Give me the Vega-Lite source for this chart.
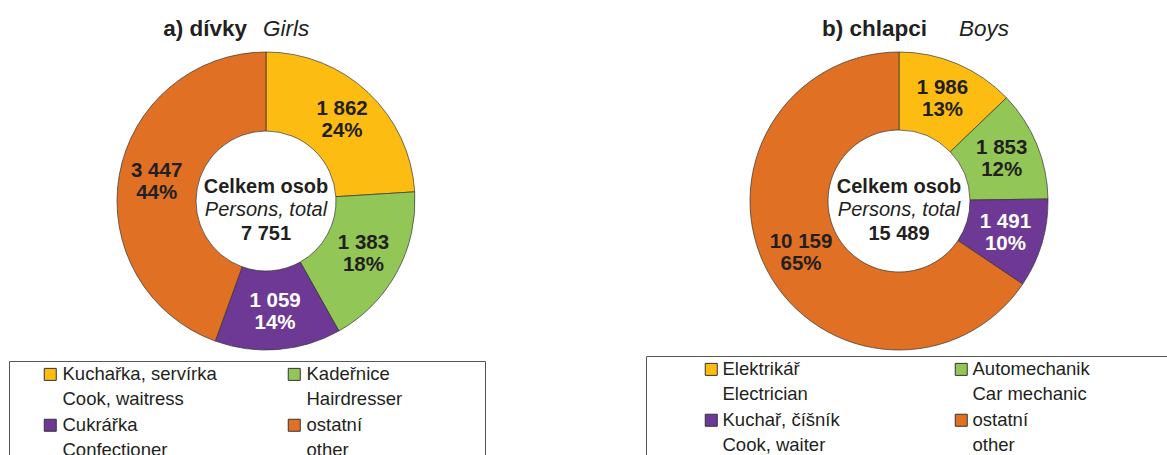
{
  "$schema": "https://vega.github.io/schema/vega-lite/v6.json",
  "padding": 0,
  "background": "white",
  "datasets": {
    "girls": [
      {"cat": "Kuchařka, servírka|Cook, waitress", "n": 1862, "pct": 0.24, "k": 1},
      {"cat": "Kadeřnice|Hairdresser", "n": 1383, "pct": 0.18, "k": 2},
      {"cat": "Cukrářka|Confectioner", "n": 1059, "pct": 0.14, "k": 3},
      {"cat": "ostatní|other", "n": 3447, "pct": 0.44, "k": 4}
    ],
    "boys": [
      {"cat": "Elektrikář|Electrician", "n": 1986, "pct": 0.13, "k": 1},
      {"cat": "Automechanik|Car mechanic", "n": 1853, "pct": 0.12, "k": 2},
      {"cat": "Kuchař, číšník|Cook, waiter", "n": 1491, "pct": 0.10, "k": 3},
      {"cat": "ostatní|other", "n": 10159, "pct": 0.65, "k": 4}
    ]
  },
  "spacing": 100,
  "bounds": "flush",
  "resolve": {"scale": {"color": "independent", "theta": "independent"}, "legend": {"color": "independent"}},
  "hconcat": [
    {
      "width": 532,
      "height": 402,
      "data": {"name": "girls"},
      "layer": [
        {
          "mark": {"type": "arc", "outerRadius": 149, "innerRadius": 70, "stroke": "#333333", "strokeWidth": 0.7},
          "encoding": {
            "theta": {"field": "n", "type": "quantitative", "stack": true},
            "order": {"field": "k", "type": "quantitative"},
            "color": {
              "field": "cat", "type": "nominal",
              "scale": {"domain": ["Kuchařka, servírka|Cook, waitress", "Kadeřnice|Hairdresser", "Cukrářka|Confectioner", "ostatní|other"],
                        "range": ["#FCBC12", "#92C656", "#6E3995", "#E07024"]},
              "legend": {"title": " ", "titleOrient": "right", "titlePadding": 79, "orient": "none", "legendX": 9, "legendY": 361,
                         "direction": "horizontal", "columns": 2, "gridAlign": "all",
                         "labelExpr": "split(datum.label, '|')",
                         "symbolOffset": 28, "labelOffset": 3, "columnPadding": 40}
            }
          }
        },
        {
          "mark": {"type": "text", "radius": 111, "dy": -11, "fontWeight": "bold", "fontSize": 20.5},
          "encoding": {
            "theta": {"field": "n", "type": "quantitative", "stack": true},
            "order": {"field": "k", "type": "quantitative"},
            "detail": {"field": "cat", "type": "nominal"},
            "text": {"field": "n", "type": "quantitative", "format": ",d"},
            "color": {"condition": {"test": "datum.k == 3", "value": "#FFFFFF"}, "value": "#231F20"}
          }
        },
        {
          "mark": {"type": "text", "radius": 111, "dy": 11, "fontWeight": "bold", "fontSize": 20.5},
          "encoding": {
            "theta": {"field": "n", "type": "quantitative", "stack": true},
            "order": {"field": "k", "type": "quantitative"},
            "detail": {"field": "cat", "type": "nominal"},
            "text": {"field": "pct", "type": "quantitative", "format": ".0%"},
            "color": {"condition": {"test": "datum.k == 3", "value": "#FFFFFF"}, "value": "#231F20"}
          }
        },
        {
          "transform": [{"aggregate": [{"op": "sum", "field": "n", "as": "total"}]}],
          "layer": [
            {"mark": {"type": "text", "text": "Celkem osob", "fontWeight": "bold", "fontSize": 20, "dy": -14.5, "color": "#231F20"}, "encoding": {}},
            {"mark": {"type": "text", "text": "Persons, total", "fontStyle": "italic", "fontSize": 20, "dy": 9, "color": "#231F20"}, "encoding": {}},
            {"mark": {"type": "text", "fontWeight": "bold", "fontSize": 20, "dy": 32.5, "color": "#231F20"},
             "encoding": {"text": {"field": "total", "type": "quantitative", "format": ",d"}}},
            {"mark": {"type": "text", "text": "a) dívky", "fontWeight": "bold", "fontSize": 22.5, "align": "right", "baseline": "alphabetic", "dx": -19, "dy": -165, "color": "#231F20"}, "encoding": {}},
            {"mark": {"type": "text", "text": "Girls", "fontStyle": "italic", "fontSize": 22.5, "align": "left", "baseline": "alphabetic", "dx": -3, "dy": -165, "color": "#231F20"}, "encoding": {}}
          ]
        }
      ]
    },
    {
      "width": 534,
      "height": 402,
      "data": {"name": "boys"},
      "layer": [
        {
          "mark": {"type": "arc", "outerRadius": 149, "innerRadius": 71, "stroke": "#333333", "strokeWidth": 0.7},
          "encoding": {
            "theta": {"field": "n", "type": "quantitative", "stack": true},
            "order": {"field": "k", "type": "quantitative"},
            "color": {
              "field": "cat", "type": "nominal",
              "scale": {"domain": ["Elektrikář|Electrician", "Automechanik|Car mechanic", "Kuchař, číšník|Cook, waiter", "ostatní|other"],
                        "range": ["#FCBC12", "#92C656", "#6E3995", "#E07024"]},
              "legend": {"title": " ", "titleOrient": "right", "titlePadding": 90, "orient": "none", "legendX": 14, "legendY": 356,
                         "direction": "horizontal", "columns": 2,
                         "labelExpr": "split(datum.label, '|')",
                         "symbolOffset": 52, "labelOffset": 2, "columnPadding": 60}
            }
          }
        },
        {
          "mark": {"type": "text", "radius": 111, "dy": -11, "fontWeight": "bold", "fontSize": 20.5},
          "encoding": {
            "theta": {"field": "n", "type": "quantitative", "stack": true},
            "order": {"field": "k", "type": "quantitative"},
            "detail": {"field": "cat", "type": "nominal"},
            "text": {"field": "n", "type": "quantitative", "format": ",d"},
            "color": {"condition": {"test": "datum.k == 3", "value": "#FFFFFF"}, "value": "#231F20"}
          }
        },
        {
          "mark": {"type": "text", "radius": 111, "dy": 11, "fontWeight": "bold", "fontSize": 20.5},
          "encoding": {
            "theta": {"field": "n", "type": "quantitative", "stack": true},
            "order": {"field": "k", "type": "quantitative"},
            "detail": {"field": "cat", "type": "nominal"},
            "text": {"field": "pct", "type": "quantitative", "format": ".0%"},
            "color": {"condition": {"test": "datum.k == 3", "value": "#FFFFFF"}, "value": "#231F20"}
          }
        },
        {
          "transform": [{"aggregate": [{"op": "sum", "field": "n", "as": "total"}]}],
          "layer": [
            {"mark": {"type": "text", "text": "Celkem osob", "fontWeight": "bold", "fontSize": 20, "dy": -14.5, "color": "#231F20"}, "encoding": {}},
            {"mark": {"type": "text", "text": "Persons, total", "fontStyle": "italic", "fontSize": 20, "dy": 9, "color": "#231F20"}, "encoding": {}},
            {"mark": {"type": "text", "fontWeight": "bold", "fontSize": 20, "dy": 32.5, "color": "#231F20"},
             "encoding": {"text": {"field": "total", "type": "quantitative", "format": ",d"}}},
            {"mark": {"type": "text", "text": "b) chlapci", "fontWeight": "bold", "fontSize": 22.5, "align": "right", "baseline": "alphabetic", "dx": 28, "dy": -165, "color": "#231F20"}, "encoding": {}},
            {"mark": {"type": "text", "text": "Boys", "fontStyle": "italic", "fontSize": 22.5, "align": "left", "baseline": "alphabetic", "dx": 60, "dy": -165, "color": "#231F20"}, "encoding": {}}
          ]
        }
      ]
    }
  ],
  "config": {
    "font": "Liberation Sans",
    "view": {"stroke": null},
    "locale": {"number": {"decimal": ",", "thousands": " ", "grouping": [3], "currency": ["", " Kč"]}},
    "style": {"guide-label": {"lineHeight": 25}},
    "legend": {
      "symbolType": "square",
      "symbolSize": 144,
      "symbolStrokeColor": "#333333",
      "symbolStrokeWidth": 1,
      "symbolOpacity": 1,
      "labelFont": "Liberation Sans",
      "labelFontSize": 18.5,
      "labelColor": "#231F20",
      "labelLimit": 0,
      "strokeColor": "#555555",
      "padding": 4,
      "rowPadding": 7
    }
  }
}
